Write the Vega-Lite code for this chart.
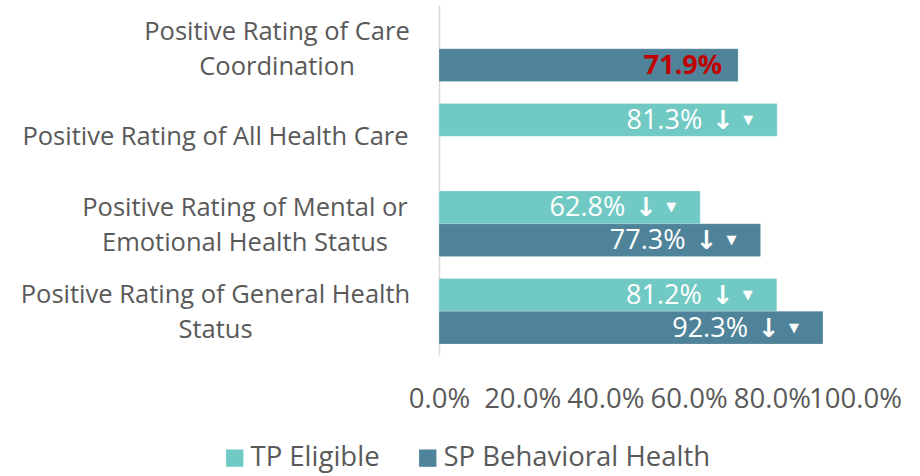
{
  "$schema": "https://vega.github.io/schema/vega-lite/v6.json",
  "width": 416,
  "height": 350,
  "padding": {"left": 20, "top": 5, "right": 5, "bottom": 5},
  "background": "white",
  "config": {"view": {"stroke": null}, "font": "Open Sans"},
  "datasets": {
    "bars": [
      {"measure": "Positive Rating of Care Coordination", "group": "SP Behavioral Health", "value": 71.9, "label": "71.9%", "trend": "none"},
      {"measure": "Positive Rating of All Health Care", "group": "TP Eligible", "value": 81.3, "label": "81.3%", "trend": "down"},
      {"measure": "Positive Rating of Mental or Emotional Health Status", "group": "TP Eligible", "value": 62.8, "label": "62.8%", "trend": "down"},
      {"measure": "Positive Rating of Mental or Emotional Health Status", "group": "SP Behavioral Health", "value": 77.3, "label": "77.3%", "trend": "down"},
      {"measure": "Positive Rating of General Health Status", "group": "TP Eligible", "value": 81.2, "label": "81.2%", "trend": "down"},
      {"measure": "Positive Rating of General Health Status", "group": "SP Behavioral Health", "value": 92.3, "label": "92.3%", "trend": "down"}
    ],
    "categories": [
      {"measure": "Positive Rating of Care Coordination", "text": "Positive Rating of Care|Coordination"},
      {"measure": "Positive Rating of All Health Care", "text": "Positive Rating of All Health Care"},
      {"measure": "Positive Rating of Mental or Emotional Health Status", "text": "Positive Rating of Mental or|Emotional Health Status"},
      {"measure": "Positive Rating of General Health Status", "text": "Positive Rating of General Health|Status"}
    ]
  },
  "encoding": {
    "y": {
      "field": "measure",
      "type": "nominal",
      "sort": ["Positive Rating of Care Coordination", "Positive Rating of All Health Care", "Positive Rating of Mental or Emotional Health Status", "Positive Rating of General Health Status"],
      "scale": {"paddingInner": 0.25, "paddingOuter": 0.125},
      "axis": {
        "title": null,
        "ticks": false,
        "labels": false,
        "domain": true,
        "domainColor": "#D9D9D9",
        "domainWidth": 1.5,
        "minExtent": 0,
        "maxExtent": 0
      }
    }
  },
  "layer": [
    {
      "data": {"name": "bars"},
      "mark": {"type": "bar", "stroke": "white", "strokeOpacity": 0.4, "strokeWidth": 0.5},
      "encoding": {
        "x": {
          "field": "value",
          "type": "quantitative",
          "scale": {"domain": [0, 100], "nice": false},
          "axis": {
            "title": null,
            "values": [0, 20, 40, 60, 80, 100],
            "labelExpr": "format(datum.value, '.1f') + '%'",
            "grid": false,
            "ticks": false,
            "domain": false,
            "labelFontSize": 27.5,
            "labelColor": "#595959",
            "labelPadding": 30,
            "labelFlush": false,
            "labelOverlap": false
          }
        },
        "yOffset": {"field": "group", "type": "nominal", "scale": {"domain": ["TP Eligible", "SP Behavioral Health"], "paddingInner": 0, "paddingOuter": 0}},
        "color": {
          "field": "group",
          "type": "nominal",
          "scale": {"domain": ["TP Eligible", "SP Behavioral Health"], "range": ["#71C9C4", "#4F8399"]},
          "legend": {
            "title": null,
            "orient": "none",
            "legendX": -218,
            "legendY": 439,
            "direction": "horizontal",
            "symbolType": "square",
            "symbolSize": 300,
            "symbolStrokeWidth": 0,
            "labelFontSize": 27.5,
            "labelColor": "#595959",
            "labelLimit": 400,
            "columnPadding": 34,
            "labelOffset": 2
          }
        }
      }
    },
    {
      "data": {"name": "bars"},
      "transform": [{"filter": "datum.trend == 'down'"}],
      "mark": {"type": "text", "align": "right", "baseline": "middle", "dx": -75, "dy": 1, "color": "white", "fontSize": 27},
      "encoding": {
        "x": {"field": "value", "type": "quantitative"},
        "yOffset": {"field": "group", "type": "nominal"},
        "text": {"field": "label"}
      }
    },
    {
      "data": {"name": "bars"},
      "transform": [{"filter": "datum.trend == 'down'"}],
      "mark": {"type": "text", "align": "center", "baseline": "middle", "dx": -54, "dy": 1, "color": "white", "fontSize": 26, "font": "DejaVu Sans", "fontWeight": "bold"},
      "encoding": {
        "x": {"field": "value", "type": "quantitative"},
        "yOffset": {"field": "group", "type": "nominal"},
        "text": {"value": "↓"}
      }
    },
    {
      "data": {"name": "bars"},
      "transform": [{"filter": "datum.trend == 'down'"}],
      "mark": {"type": "text", "align": "center", "baseline": "middle", "dx": -29, "dy": 0, "color": "white", "fontSize": 13, "font": "DejaVu Sans"},
      "encoding": {
        "x": {"field": "value", "type": "quantitative"},
        "yOffset": {"field": "group", "type": "nominal"},
        "text": {"value": "▼"}
      }
    },
    {
      "data": {"name": "bars"},
      "transform": [{"filter": "datum.trend == 'none'"}],
      "mark": {"type": "text", "align": "right", "baseline": "middle", "dx": -16, "dy": 1, "color": "#C00000", "fontSize": 27, "fontWeight": "bold"},
      "encoding": {
        "x": {"field": "value", "type": "quantitative"},
        "yOffset": {"field": "group", "type": "nominal"},
        "text": {"field": "label"}
      }
    },
    {
      "data": {"name": "categories"},
      "transform": [{"filter": "datum.measure == 'Positive Rating of Care Coordination'"}],
      "mark": {"type": "text", "align": "center", "baseline": "middle", "dx": -162, "dy": -16.5, "lineBreak": "|", "lineHeight": 35, "color": "#595959", "fontSize": 25.5},
      "encoding": {"x": {"datum": 0, "type": "quantitative"}, "text": {"field": "text"}}
    },
    {
      "data": {"name": "categories"},
      "transform": [{"filter": "datum.measure == 'Positive Rating of Mental or Emotional Health Status'"}],
      "mark": {"type": "text", "align": "center", "baseline": "middle", "dx": -194, "dy": -15.5, "lineBreak": "|", "lineHeight": 35, "color": "#595959", "fontSize": 25.5},
      "encoding": {"x": {"datum": 0, "type": "quantitative"}, "text": {"field": "text"}}
    },
    {
      "data": {"name": "categories"},
      "transform": [{"filter": "datum.measure == 'Positive Rating of All Health Care'"}],
      "mark": {"type": "text", "align": "center", "baseline": "middle", "dx": -223.5, "dy": 1, "lineBreak": "|", "lineHeight": 35, "color": "#595959", "fontSize": 25.5},
      "encoding": {"x": {"datum": 0, "type": "quantitative"}, "text": {"field": "text"}}
    },
    {
      "data": {"name": "categories"},
      "transform": [{"filter": "datum.measure == 'Positive Rating of General Health Status'"}],
      "mark": {"type": "text", "align": "center", "baseline": "middle", "dx": -223.5, "dy": -16, "lineBreak": "|", "lineHeight": 35, "color": "#595959", "fontSize": 25.5},
      "encoding": {"x": {"datum": 0, "type": "quantitative"}, "text": {"field": "text"}}
    }
  ]
}
